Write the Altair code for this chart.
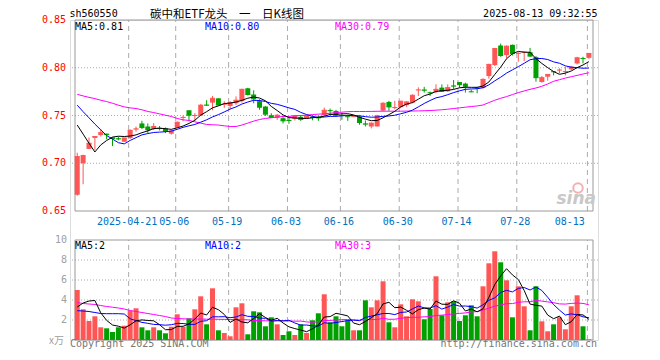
import altair as alt
import pandas as pd

# ---------------- data ----------------
opens = [0.667, 0.700, 0.715, 0.7265, 0.7295, 0.731, 0.727, 0.726, 0.7225, 0.7265,
         0.7355, 0.7417, 0.7385, 0.7358, 0.737, 0.7365, 0.731, 0.7375, 0.7475, 0.7555,
         0.7495, 0.750, 0.7612, 0.7635, 0.768, 0.7615, 0.760, 0.7628, 0.765, 0.7785,
         0.772, 0.765, 0.7594, 0.7503, 0.7476, 0.7472, 0.745, 0.7465, 0.7486, 0.747,
         0.7486, 0.748, 0.7503, 0.7555, 0.7548, 0.7505, 0.749, 0.7485, 0.749, 0.7415,
         0.7385, 0.7385, 0.7552, 0.7642, 0.758, 0.7587, 0.7608, 0.7635, 0.7765, 0.777,
         0.774, 0.7747, 0.7792, 0.7753, 0.7812, 0.785, 0.7834, 0.775, 0.779, 0.7788,
         0.7913, 0.8028, 0.8233, 0.8132, 0.824, 0.8148, 0.816, 0.8163, 0.8111, 0.7851,
         0.7906, 0.796, 0.7974, 0.7958, 0.7983, 0.8045, 0.8099, 0.8104]
highs = [0.711, 0.709, 0.727, 0.7285, 0.736, 0.731, 0.727, 0.728, 0.7265, 0.7355,
         0.7385, 0.7444, 0.7417, 0.742, 0.739, 0.7375, 0.735, 0.7435, 0.750, 0.7555,
         0.7525, 0.762, 0.766, 0.7705, 0.768, 0.765, 0.765, 0.770, 0.778, 0.779,
         0.7764, 0.767, 0.760, 0.7524, 0.7514, 0.749, 0.7476, 0.7503, 0.750, 0.7503,
         0.7503, 0.750, 0.7583, 0.7573, 0.7559, 0.753, 0.751, 0.7495, 0.7503, 0.7448,
         0.7427, 0.7507, 0.7639, 0.7653, 0.7653, 0.765, 0.765, 0.7722, 0.7795, 0.780,
         0.775, 0.7826, 0.7826, 0.7826, 0.7872, 0.7851, 0.7844, 0.777, 0.780, 0.7889,
         0.8042, 0.8208, 0.8253, 0.8233, 0.8243, 0.8163, 0.817, 0.8208, 0.8122, 0.7913,
         0.793, 0.7965, 0.7993, 0.801, 0.8017, 0.8115, 0.8115, 0.815]
lows = [0.666, 0.678, 0.715, 0.714, 0.728, 0.725, 0.718, 0.724, 0.7225, 0.7255,
        0.733, 0.7358, 0.7316, 0.7347, 0.7344, 0.7316, 0.730, 0.7375, 0.744, 0.744,
        0.7444, 0.7497, 0.760, 0.7555, 0.7604, 0.758, 0.7566, 0.761, 0.7635, 0.771,
        0.7628, 0.756, 0.7497, 0.748, 0.7455, 0.7417, 0.7413, 0.7448, 0.7444, 0.7465,
        0.745, 0.7444, 0.7497, 0.750, 0.7497, 0.7455, 0.7444, 0.7485, 0.7403, 0.7385,
        0.7365, 0.7385, 0.7545, 0.7549, 0.7566, 0.7576, 0.759, 0.7628, 0.7705, 0.774,
        0.7705, 0.7733, 0.7747, 0.7747, 0.7774, 0.7792, 0.774, 0.7743, 0.7733, 0.7781,
        0.7885, 0.8017, 0.8115, 0.8097, 0.8128, 0.8063, 0.807, 0.8115, 0.7854, 0.7844,
        0.7865, 0.792, 0.7941, 0.792, 0.7976, 0.8035, 0.8045, 0.8094]
closes = [0.707, 0.708, 0.721, 0.728, 0.732, 0.730, 0.726, 0.7255, 0.7265, 0.7345,
          0.736, 0.7375, 0.735, 0.7385, 0.7365, 0.7337, 0.7337, 0.743, 0.748, 0.7503,
          0.750, 0.7608, 0.7608, 0.768, 0.761, 0.7618, 0.7635, 0.766, 0.7774, 0.772,
          0.7674, 0.7587, 0.7514, 0.748, 0.7503, 0.7444, 0.7448, 0.7497, 0.746, 0.7497,
          0.748, 0.7475, 0.7555, 0.755, 0.7503, 0.750, 0.7487, 0.7488, 0.7427, 0.741,
          0.742, 0.7497, 0.7628, 0.759, 0.7583, 0.765, 0.7642, 0.7712, 0.7768, 0.7765,
          0.7738, 0.7774, 0.7753, 0.7792, 0.7808, 0.7823, 0.7806, 0.7748, 0.7788, 0.7878,
          0.8035, 0.8201, 0.8128, 0.8226, 0.815, 0.815, 0.8163, 0.8122, 0.7896, 0.7896,
          0.793, 0.7958, 0.7976, 0.796, 0.8007, 0.8104, 0.8097, 0.815]
volumes = [5.0, 3.07, 1.9, 2.37, 1.27, 1.17, 0.8, 1.27, 1.43, 2.93,
           3.17, 1.27, 0.97, 1.27, 0.97, 0.67, 1.33, 2.57, 1.33, 2.17,
           3.07, 4.37, 1.57, 5.17, 0.97, 0.7, 0.37, 3.27, 3.67, 0.57,
           2.87, 2.77, 1.37, 2.27, 1.57, 0.5, 0.87, 0.5, 1.57, 0.7,
           1.97, 2.67, 4.57, 1.77, 2.37, 1.37, 1.97, 0.97, 0.97, 3.97,
           3.27, 3.97, 5.87, 1.77, 1.27, 3.57, 2.37, 4.07, 3.87, 2.07,
           3.1, 6.37, 2.47, 3.77, 3.87, 1.9, 2.47, 3.47, 2.37, 5.37,
           7.67, 8.87, 7.77, 5.97, 2.27, 5.37, 3.37, 0.97, 5.37, 1.87,
           0.87, 1.57, 2.27, 1.07, 3.37, 4.47, 1.37, 0.07]
ma5 = [0.740, 0.7305, 0.721, 0.7118, 0.7192, 0.7238, 0.7274, 0.7283, 0.728, 0.7285,
       0.7297, 0.732, 0.7339, 0.7363, 0.7367, 0.7362, 0.7355, 0.7371, 0.739, 0.7417,
       0.745, 0.7504, 0.754, 0.758, 0.7601, 0.7625, 0.763, 0.7641, 0.7659, 0.7681,
       0.7693, 0.7683, 0.7654, 0.7595, 0.7552, 0.7506, 0.7478, 0.7474, 0.747, 0.7469,
       0.7476, 0.7482, 0.7493, 0.7511, 0.7513, 0.7517, 0.7519, 0.7506, 0.7481, 0.7462,
       0.7446, 0.7448, 0.7476, 0.7509, 0.7544, 0.759, 0.7619, 0.7635, 0.7671, 0.7707,
       0.7725, 0.7751, 0.776, 0.7764, 0.7773, 0.779, 0.7796, 0.7795, 0.7795, 0.7809,
       0.7851, 0.793, 0.8006, 0.8094, 0.8148, 0.8171, 0.8163, 0.8162, 0.8096, 0.8045,
       0.8001, 0.796, 0.7931, 0.7944, 0.7966, 0.8001, 0.8029, 0.8064]
ma10 = [0.7608, 0.754, 0.7476, 0.741, 0.735, 0.729, 0.7253, 0.7215, 0.7203, 0.7239,
        0.7268, 0.7297, 0.7311, 0.7322, 0.7326, 0.733, 0.7337, 0.7355, 0.7376, 0.7392,
        0.7406, 0.743, 0.7455, 0.7485, 0.7509, 0.7537, 0.7567, 0.759, 0.762, 0.7641,
        0.7659, 0.7657, 0.7647, 0.7627, 0.7617, 0.7599, 0.758, 0.7564, 0.7533, 0.751,
        0.7491, 0.748, 0.7484, 0.7491, 0.7491, 0.7497, 0.75, 0.75, 0.7496, 0.7488,
        0.7482, 0.7484, 0.7491, 0.7495, 0.7503, 0.7518, 0.7534, 0.7556, 0.759, 0.7626,
        0.7657, 0.7685, 0.7698, 0.7718, 0.774, 0.7758, 0.7774, 0.7778, 0.778, 0.7791,
        0.7821, 0.7863, 0.7901, 0.7944, 0.7978, 0.8011, 0.8047, 0.8084, 0.8095, 0.8097,
        0.8086, 0.8062, 0.8047, 0.802, 0.8006, 0.8001, 0.7995, 0.7997]
ma30 = [0.7722, 0.7705, 0.769, 0.7677, 0.766, 0.7646, 0.7628, 0.7608, 0.759, 0.758,
        0.7573, 0.756, 0.7542, 0.7531, 0.7517, 0.7503, 0.749, 0.7469, 0.7455, 0.7448,
        0.7434, 0.742, 0.7406, 0.7403, 0.74, 0.7392, 0.7385, 0.7385, 0.74, 0.742,
        0.7441, 0.7458, 0.7469, 0.7476, 0.7483, 0.749, 0.749, 0.7497, 0.75, 0.7503,
        0.751, 0.7514, 0.7517, 0.7524, 0.753, 0.7535, 0.754, 0.7542, 0.7542, 0.7542,
        0.7543, 0.7544, 0.7545, 0.7545, 0.7545, 0.7545, 0.7546, 0.7547, 0.7548, 0.755,
        0.7552, 0.7556, 0.756, 0.7566, 0.7573, 0.758, 0.7587, 0.7594, 0.76, 0.761,
        0.7635, 0.766, 0.768, 0.7698, 0.7719, 0.774, 0.7757, 0.7774, 0.7788, 0.7806,
        0.783, 0.7858, 0.7875, 0.7892, 0.7906, 0.792, 0.7934, 0.7948]
vma5 = [3.3, 3.7, 3.9, 3.95, 2.72, 1.96, 1.50, 1.38, 1.19, 1.52,
        1.92, 2.01, 1.95, 1.92, 1.53, 1.03, 1.04, 1.36, 1.37, 1.61,
        2.09, 2.70, 2.50, 3.27, 3.03, 2.56, 1.76, 2.10, 1.80, 1.72,
        2.15, 2.63, 2.25, 1.97, 2.17, 1.70, 1.32, 1.14, 1.00, 0.83,
        1.12, 1.48, 2.30, 2.34, 2.67, 2.55, 2.41, 1.69, 1.53, 1.85,
        2.23, 2.63, 3.61, 3.77, 3.23, 3.29, 2.97, 2.61, 3.03, 3.19,
        3.10, 3.90, 3.58, 3.56, 3.92, 3.68, 2.90, 3.10, 2.82, 3.12,
        4.27, 5.55, 6.41, 7.13, 6.51, 6.05, 4.95, 3.59, 3.47, 3.39,
        2.49, 2.13, 2.39, 1.53, 1.83, 2.55, 2.51, 2.07]
vma10 = [2.93, 2.9, 2.85, 2.75, 2.65, 2.63, 2.63, 2.63, 2.6, 2.12,
         1.94, 1.76, 1.67, 1.56, 1.53, 1.48, 1.53, 1.66, 1.65, 1.57,
         1.56, 1.87, 1.93, 2.32, 2.32, 2.33, 2.23, 2.30, 2.53, 2.37,
         2.35, 2.19, 2.17, 1.88, 1.94, 1.92, 1.97, 1.70, 1.49, 1.50,
         1.41, 1.40, 1.72, 1.67, 1.75, 1.84, 1.95, 1.99, 1.93, 2.26,
         2.39, 2.52, 2.65, 2.65, 2.54, 2.76, 2.80, 3.11, 3.40, 3.21,
         3.19, 3.43, 3.09, 3.29, 3.55, 3.39, 3.40, 3.34, 3.19, 3.52,
         3.97, 4.22, 4.75, 4.97, 4.81, 5.16, 5.25, 5.00, 5.30, 4.95,
         4.27, 3.54, 2.99, 2.50, 2.61, 2.52, 2.32, 2.23]
vma30 = [3.75, 3.65, 3.6, 3.55, 3.45, 3.35, 3.28, 3.2, 3.1, 2.95,
         2.85, 2.75, 2.65, 2.55, 2.45, 2.35, 2.2, 2.15, 2.12, 2.1,
         2.1, 2.1, 2.08, 2.08, 2.07, 2.06, 2.05, 2.04, 2.03, 2.02,
         1.95, 1.94, 1.92, 1.92, 1.93, 1.91, 1.91, 1.88, 1.89, 1.81,
         1.77, 1.82, 1.94, 1.96, 2.00, 2.03, 2.05, 2.00, 1.98, 2.04,
         2.05, 2.04, 2.18, 2.07, 2.08, 2.17, 2.24, 2.27, 2.27, 2.32,
         2.33, 2.45, 2.49, 2.54, 2.61, 2.66, 2.71, 2.81, 2.84, 3.00,
         3.19, 3.39, 3.50, 3.64, 3.64, 3.77, 3.82, 3.82, 3.96, 3.89,
         3.81, 3.73, 3.61, 3.59, 3.66, 3.69, 3.66, 3.52]

tick_idx = [9, 17, 26, 36, 45, 55, 65, 75, 87]
tick_labels = ["2025-04-21", "05-06", "05-19", "06-03", "06-16", "06-30", "07-14", "07-28", "08-13"]
price_ticks = [0.85, 0.80, 0.75, 0.70, 0.65]
price_tick_labels = ["0.85", "0.80", "0.75", "0.70", "0.65"]
vol_ticks = [10, 8, 6, 4, 2]
vol_tick_labels = ["10", "8", "6", "4", "2"]
price_legend = ["MA5:0.81", "MA10:0.80", "MA30:0.79"]
vol_legend = ["MA5:2", "MA10:2", "MA30:3"]
symbol = "sh560550"
title_text = "碳中和ETF龙头\u3000一\u3000日K线图"
stamp = "2025-08-13 09:32:55"
copyright_text = "Copyright 2025 SINA.COM"
url_text = "http://finance.sina.com.cn"
vol_unit = "x万"

# ---------------- styling ----------------
RED = "#ff5555"
GREEN = "#00a000"
GRID = "#aaaaaa"
FRAME = "#999999"
MONO = "DejaVu Sans Mono"
CJK = "Noto Sans CJK SC"
MA_COLORS = ["#000000", "#0000ff", "#ff00ff"]

n = len(closes)
df = pd.DataFrame({
    "i": list(range(n)), "open": opens, "high": highs, "low": lows, "close": closes,
    "vol": volumes, "zero": [0] * n,
    "ma5": ma5, "ma10": ma10, "ma30": ma30,
    "vma5": vma5, "vma10": vma10, "vma30": vma30,
})
df["col"] = [RED if c >= o else GREEN for o, c in zip(opens, closes)]

XDOM = [-0.38, 87.7]
XS = alt.Scale(domain=XDOM, nice=False, zero=False)
PY = alt.Scale(domain=[0.65, 0.85], range=[191, 0], nice=False, zero=False)
VY = alt.Scale(domain=[0, 10], range=[320, 220], nice=False, zero=False)


def X(f="i"):
    return alt.X(f"{f}:Q", scale=XS, axis=None)


def YP(f):
    return alt.Y(f"{f}:Q", scale=PY, axis=None)


def YV(f):
    return alt.Y(f"{f}:Q", scale=VY, axis=None)


COL = alt.Color("col:N", scale=None, legend=None)

layers = []

# grids
layers.append(alt.Chart(pd.DataFrame({"p": price_ticks[1:-1]}))
              .mark_rule(color=GRID, strokeDash=[1, 2], strokeWidth=1)
              .encode(y=YP("p")))
layers.append(alt.Chart(pd.DataFrame({"v": vol_ticks[1:]}))
              .mark_rule(color=GRID, strokeDash=[1, 2], strokeWidth=1)
              .encode(y=YV("v")))
vgrid = pd.DataFrame({"i": tick_idx, "plo": 0.65, "phi": 0.85, "vlo": 0, "vhi": 10})
layers.append(alt.Chart(vgrid).mark_rule(color=GRID, strokeDash=[5, 4], strokeWidth=1, xOffset=-1.5)
              .encode(x=X(), y=YP("plo"), y2="phi:Q"))
layers.append(alt.Chart(vgrid).mark_rule(color=GRID, strokeDash=[5, 4], strokeWidth=1, xOffset=-1.5)
              .encode(x=X(), y=YV("vlo"), y2="vhi:Q"))

# frames
frame = pd.DataFrame({"x0": [XDOM[0]], "x1": [XDOM[1]], "plo": [0.65], "phi": [0.85], "vlo": [0], "vhi": [10]})
layers.append(alt.Chart(frame).mark_rect(fillOpacity=0, stroke=FRAME, strokeWidth=1)
              .encode(x=X("x0"), x2="x1:Q", y=YP("plo"), y2="phi:Q"))
layers.append(alt.Chart(frame).mark_rect(fillOpacity=0, stroke=FRAME, strokeWidth=1)
              .encode(x=X("x0"), x2="x1:Q", y=YV("vlo"), y2="vhi:Q"))

# sina watermark
layers.append(alt.Chart(pd.DataFrame({"t": ["sina"]}))
              .mark_text(font="DejaVu Sans", fontSize=17, fontWeight="bold", fontStyle="italic",
                         color="#c8c8c8", align="right", baseline="alphabetic")
              .encode(x=alt.value(526), y=alt.value(184), text="t:N"))
layers.append(alt.Chart(pd.DataFrame({"t": ["sina"]}))
              .mark_point(shape="circle", filled=False, color="#f09090", strokeWidth=2, size=90, opacity=0.7)
              .encode(x=alt.value(508), y=alt.value(168)))

# candles
base = alt.Chart(df)
layers.append(base.mark_rule(strokeWidth=1).encode(x=X(), y=YP("low"), y2="high:Q", color=COL))
layers.append(base.mark_bar(size=5).encode(x=X(), y=YP("open"), y2="close:Q", color=COL))
layers.append(base.mark_rule(strokeWidth=1, xOffset=-2.5, x2Offset=2.5)
              .encode(x=X(), x2="i:Q", y=YP("close"), color=COL))

# volume bars
layers.append(base.mark_bar(size=5).encode(x=X(), y=YV("vol"), y2="zero:Q", color=COL))

# moving averages
for f, c in zip(["ma30", "ma10", "ma5"], MA_COLORS[::-1]):
    layers.append(base.mark_line(color=c, strokeWidth=1).encode(x=X(), y=YP(f)))
for f, c in zip(["vma30", "vma10", "vma5"], MA_COLORS[::-1]):
    layers.append(base.mark_line(color=c, strokeWidth=1).encode(x=X(), y=YV(f)))

# axis-like labels
layers.append(alt.Chart(pd.DataFrame({"p": price_ticks, "t": price_tick_labels}))
              .mark_text(font=MONO, fontSize=10, color="#ff0000", align="right", baseline="middle")
              .encode(x=alt.value(-4), y=YP("p"), text="t:N"))
layers.append(alt.Chart(pd.DataFrame({"v": vol_ticks, "t": vol_tick_labels}))
              .mark_text(font=MONO, fontSize=10, color="#a0a0a0", align="right", baseline="middle")
              .encode(x=alt.value(-3), y=YV("v"), text="t:N"))
dates = pd.DataFrame({"i": tick_idx, "t": tick_labels})
layers.append(alt.Chart(dates.iloc[:-1])
              .mark_text(font=MONO, fontSize=10, color="#0070c0", align="center", baseline="alphabetic", dx=-3)
              .encode(x=X(), y=alt.value(205), text="t:N"))
layers.append(alt.Chart(dates.iloc[-1:])
              .mark_text(font=MONO, fontSize=10, color="#0070c0", align="right", baseline="alphabetic", dx=-4)
              .encode(x=X(), y=alt.value(205), text="t:N"))

# legends
for txt, c, xp in zip(price_legend, MA_COLORS, [5, 135, 265]):
    layers.append(alt.Chart(pd.DataFrame({"t": [txt]}))
                  .mark_text(font=MONO, fontSize=10, color=c, align="left", baseline="alphabetic")
                  .encode(x=alt.value(xp), y=alt.value(10), text="t:N"))
for txt, c, xp in zip(vol_legend, MA_COLORS, [5, 135, 265]):
    layers.append(alt.Chart(pd.DataFrame({"t": [txt]}))
                  .mark_text(font=MONO, fontSize=10, color=c, align="left", baseline="alphabetic")
                  .encode(x=alt.value(xp), y=alt.value(229), text="t:N"))

# header and footer
def label(txt, xp, yp, align="left", font=MONO, size=10, color="#000000"):
    return (alt.Chart(pd.DataFrame({"t": [txt]}))
            .mark_text(font=font, fontSize=size, color=color, align=align, baseline="alphabetic")
            .encode(x=alt.value(xp), y=alt.value(yp), text="t:N"))

layers.append(label(symbol, -0.5, -3.3))
layers.append(label(title_text, 80, -1.6, font=CJK, size=11.5))
layers.append(label(stamp, 527.5, -3.3, align="right"))
layers.append(label(copyright_text, 0, 327, color="#777777"))
layers.append(label(url_text, 527, 327, align="right", color="#777777"))
layers.append(label(vol_unit, -21, 324, font=CJK, size=10, color="#a0a0a0"))

chart = (alt.layer(*layers)
         .resolve_scale(y="independent")
         .properties(width=528, height=320,
                     autosize=alt.AutoSizeParams(type="none"),
                     padding={"left": 62, "top": 12, "right": 54, "bottom": 12})
         .configure_view(strokeWidth=0)
         .configure(background="#ffffff"))

chart.save("out.html", embed_options={"renderer": "svg", "actions": False})
